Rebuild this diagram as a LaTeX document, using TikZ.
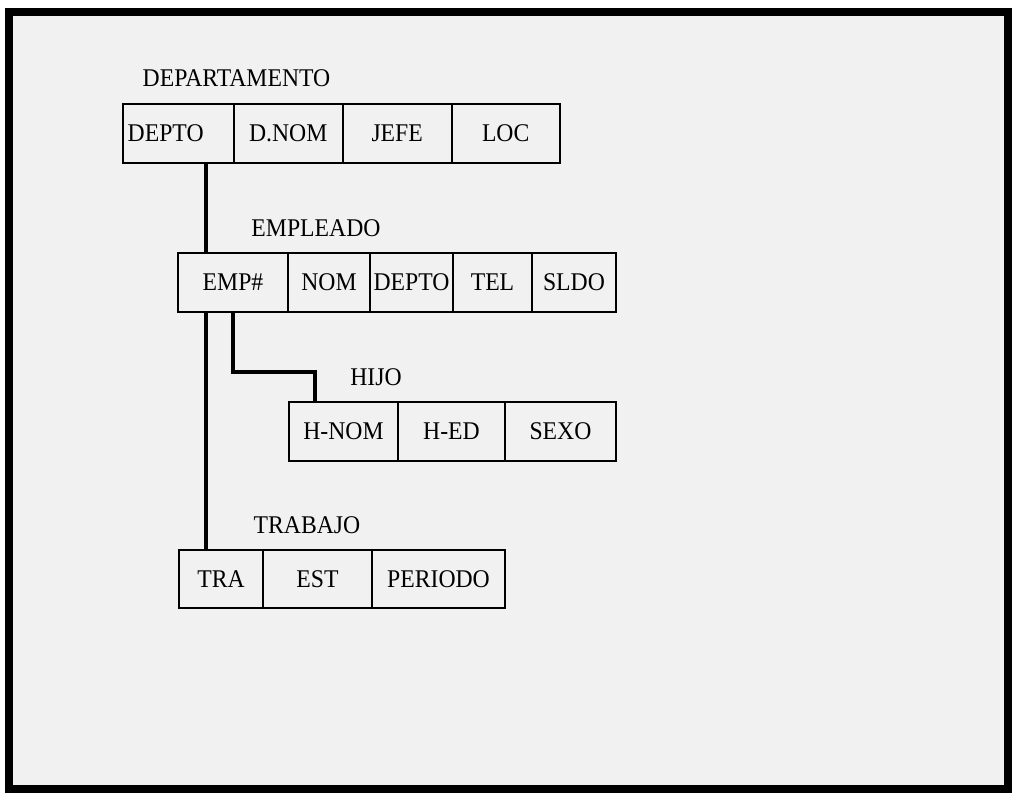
\documentclass[tikz,border=0pt]{standalone}
\usepackage{fontspec}
\setmainfont{Liberation Serif}[FakeStretch=0.93]
\usepackage{tikz}
\usetikzlibrary{positioning}
\definecolor{fondo}{RGB}{241,241,241}

\begin{document}
\begin{tikzpicture}[
    campo/.style={draw, line width=1.1pt, minimum width=#1, minimum height=1.18cm,
                  inner sep=0pt, outer sep=0pt},
    enlace/.style={line width=2.4pt},
    font=\fontsize{14.5}{17}\selectfont]
    \useasboundingbox (0,0) rectangle (20.26,15.84);
    % Marco
    \draw[line width=4pt, fill=fondo] (0.18,0.06) rectangle (20.16,15.6);

    % Departamento
    \node (tdep) at (4.73,14.28) {DEPARTAMENTO};
    \node[campo=2.22cm, anchor=north west, text width=2.02cm, align=left, inner xsep=0.1cm] (depto) at (2.454,13.76) {DEPTO};
    \node[campo=2.18cm, right=0pt of depto] (dnom) {D.NOM};
    \node[campo=2.18cm, right=0pt of dnom] (jefe) {JEFE};
    \node[campo=2.16cm, right=0pt of jefe] (loc) {LOC};

    % Empleado
    \node (temp) at (6.32,11.28) {EMPLEADO};
    \node[campo=2.2cm, anchor=north west] (empnum) at (3.56,10.78) {EMP\#};
    \node[campo=1.64cm, right=0pt of empnum] (nom) {NOM};
    \node[campo=1.66cm, right=0pt of nom] (edepto) {DEPTO};
    \node[campo=1.58cm, right=0pt of edepto] (tel) {TEL};
    \node[campo=1.68cm, right=0pt of tel] (sldo) {SLDO};

    % Hijo
    \node (thijo) at (7.52,8.30) {HIJO};
    \node[campo=2.18cm, anchor=north west] (hnom) at (5.78,7.80) {H-NOM};
    \node[campo=2.14cm, right=0pt of hnom] (hed) {H-ED};
    \node[campo=2.22cm, right=0pt of hed] (sexo) {SEXO};

    % Trabajo
    \node (ttra) at (6.14,5.34) {TRABAJO};
    \node[campo=1.68cm, anchor=north west, minimum height=1.16cm] (tra) at (3.58,4.84) {TRA};
    \node[campo=2.18cm, minimum height=1.16cm, right=0pt of tra] (est) {EST};
    \node[campo=2.66cm, minimum height=1.16cm, right=0pt of est] (periodo) {PERIODO};

    % Enlaces
    \coordinate (bajada) at ([xshift=5.56mm]depto.south);
    \draw[enlace] (bajada) -- (bajada |- empnum.north);
    \draw[enlace] (bajada |- empnum.south) -- (bajada |- tra.north);
    \draw[enlace] (empnum.south) -- ++(0,-1.2) -| ([xshift=-5.7mm]hnom.north);
\end{tikzpicture}
\end{document}
